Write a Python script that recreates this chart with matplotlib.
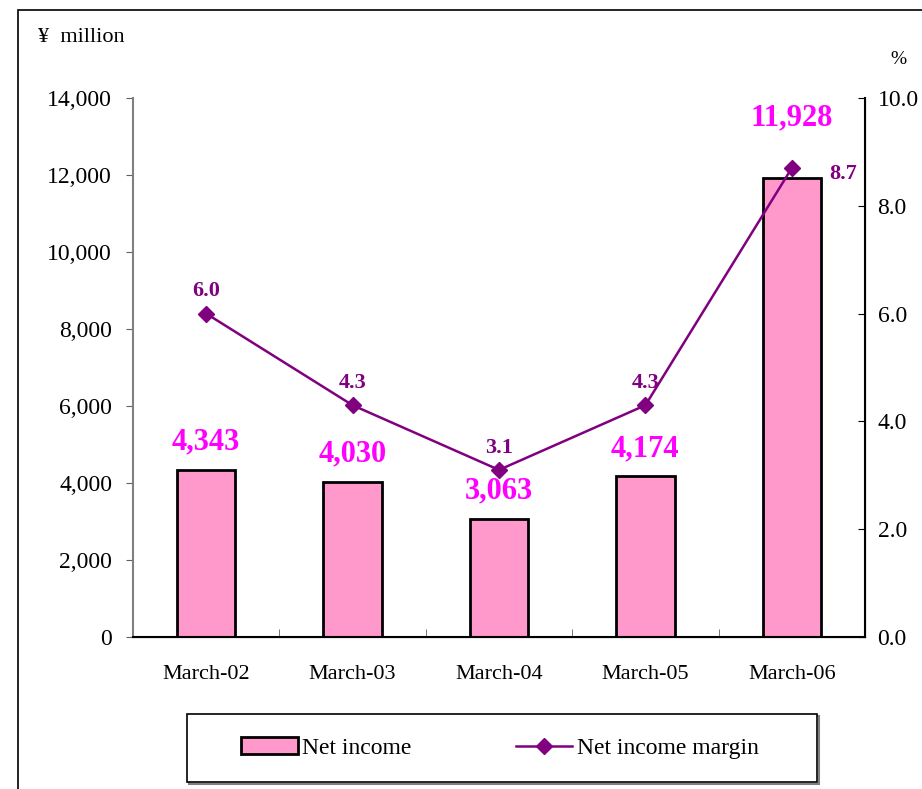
import matplotlib.pyplot as plt
from matplotlib.patches import Rectangle

plt.rcParams["font.family"] = ["Liberation Serif", "DejaVu Serif"]

periods = ["March-02", "March-03", "March-04", "March-05", "March-06"]
net_income = [4343, 4030, 3063, 4174, 11928]
margin = [6.0, 4.3, 3.1, 4.3, 8.7]

BAR_FILL = "#FF99CC"
LINE_COLOR = "#800080"
LABEL_PINK = "#FF00FF"

W, H = 922, 789
fig = plt.figure(figsize=(W / 100, H / 100), dpi=100)

# outer chart frame
fig.patches.append(Rectangle((18 / W, -0.1), 1.2, 1 - 10 / H + 0.1,
                             transform=fig.transFigure, fill=False,
                             edgecolor="black", linewidth=1.2))

ax = fig.add_axes([133 / W, 1 - 637 / H, 732 / W, 539 / H])
x = list(range(len(periods)))
bars = ax.bar(x, net_income, width=0.4, color=BAR_FILL, edgecolor="black",
              linewidth=2, label="Net income", zorder=2)
ax.set_xlim(-0.5, len(periods) - 0.5)
ax.set_ylim(0, 14000)
ax.set_yticks(range(0, 14001, 2000))
ax.set_yticklabels([f"{v:,}" for v in range(0, 14001, 2000)])
ax.set_xticks(x)
ax.set_xticklabels(periods)
ax.set_xticks([i + 0.5 for i in x[:-1]], minor=True)
ax.tick_params(axis="x", which="major", length=0, labelsize=16, pad=20)
ax.tick_params(axis="x", which="minor", direction="in", length=6, color="#606060")
ax.tick_params(axis="y", direction="out", length=5, labelsize=17, pad=10, color="#606060")
ax.spines["top"].set_visible(False)
ax.spines["left"].set_color("#808080")
ax.spines["left"].set_linewidth(1.5)
ax.spines["bottom"].set_linewidth(1.5)

# net income labels; the last one sits higher to clear the margin line
label_lift = [20, 20, 20, 20, 43]
for xi, v, lift in zip(x, net_income, label_lift):
    ax.annotate(f"{v:,}", (xi, v), xytext=(0, lift), textcoords="offset points",
                ha="center", va="center", fontsize=22, fontweight="bold",
                color=LABEL_PINK)

ax2 = ax.twinx()
ax2.plot(x, margin, color=LINE_COLOR, linewidth=1.8, marker="D",
         markersize=8.5, label="Net income margin", zorder=3)
ax2.set_ylim(0, 10)
ax2.set_yticks([0, 2, 4, 6, 8, 10])
ax2.set_yticklabels([f"{v:.1f}" for v in [0, 2, 4, 6, 8, 10]])
ax2.tick_params(axis="y", direction="in", length=5, labelsize=17, pad=9)
ax2.spines["top"].set_visible(False)
ax2.spines["left"].set_visible(False)
ax2.spines["right"].set_linewidth(1.5)

for xi, m in zip(x[:-1], margin[:-1]):
    ax2.annotate(f"{m:.1f}", (xi, m), xytext=(0, 16), textcoords="offset points",
                 ha="center", va="center", fontsize=16, fontweight="bold",
                 color=LINE_COLOR)
ax2.annotate(f"{margin[-1]:.1f}", (x[-1], margin[-1]), xytext=(27, -4),
             textcoords="offset points", ha="left", va="center", fontsize=16,
             fontweight="bold", color=LINE_COLOR)

fig.text(38 / W, 1 - 37 / H, "¥  million", ha="left", va="center", fontsize=16)
fig.text(898 / W, 1 - 60 / H, "%", ha="center", va="center", fontsize=14)

# legend box drawn by hand so its padding can differ per side
fig.patches.append(Rectangle((189 / W, 1 - 784 / H), 630 / W, 68 / H,
                             transform=fig.transFigure, fill=False,
                             edgecolor="#808080", linewidth=1.5))
fig.patches.append(Rectangle((187 / W, 1 - 782 / H), 630 / W, 68 / H,
                             transform=fig.transFigure, facecolor="white",
                             edgecolor="black", linewidth=1.2))
handles = [bars, ax2.get_lines()[0]]
fig.legend(handles, ["Net income", "Net income margin"], ncol=2,
           loc="center", bbox_to_anchor=(500 / W, 1 - 748 / H),
           fontsize=17, frameon=False, columnspacing=4.4, handlelength=2.4,
           handletextpad=0.2)

fig.savefig("out.png", dpi=100)
